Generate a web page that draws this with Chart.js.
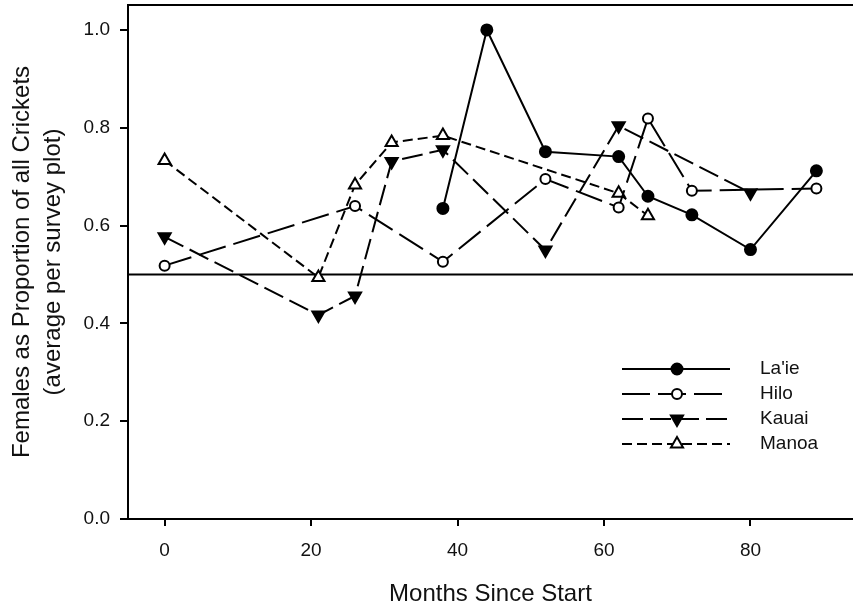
<!DOCTYPE html>
<html><head><meta charset="utf-8">
<script src="https://cdn.jsdelivr.net/npm/chart.js@4"></script>
<style>html,body{margin:0;padding:0;background:#fff;overflow:hidden}#wrap{width:853px;height:612px}</style>
</head><body><div id="wrap"><canvas id="c" width="853" height="612"></canvas></div>
<script>
const seriesNames = ["La'ie", "Hilo", "Kauai", "Manoa"];
const laieMonths = [38, 44, 52, 62, 66, 72, 80, 89];
const laieValues = [0.635, 1.0, 0.751, 0.741, 0.660, 0.622, 0.551, 0.712];
const hiloMonths = [0, 26, 38, 52, 62, 66, 72, 89];
const hiloValues = [0.518, 0.640, 0.526, 0.695, 0.637, 0.819, 0.671, 0.676];
const kauaiMonths = [0, 21, 26, 31, 38, 52, 62, 80];
const kauaiValues = [0.577, 0.417, 0.456, 0.731, 0.755, 0.550, 0.804, 0.667];
const manoaMonths = [0, 21, 26, 31, 38, 62, 66];
const manoaValues = [0.733, 0.494, 0.683, 0.770, 0.784, 0.666, 0.620];
const xTickValues = [0, 20, 40, 60, 80];
const yTickValues = [0.0, 0.2, 0.4, 0.6, 0.8, 1.0];
const referenceLevel = 0.5;
const xTitle = 'Months Since Start';
const yTitle = ['Females as Proportion of all Crickets', '(average per survey plot)'];

const FONT = "'Liberation Sans', Arial, sans-serif";
const toPts = (xs, ys) => xs.map((x, i) => ({x: x, y: ys[i]}));

const styles = [
  {dash: [], pointStyle: 'circle', rotation: 0, fill: '#000', radius: 5.5},
  {dash: [28, 8], pointStyle: 'circle', rotation: 0, fill: '#fff', radius: 5},
  {dash: [21, 7], pointStyle: 'triangle', rotation: 180, fill: '#000', radius: 7},
  {dash: [10, 5], pointStyle: 'triangle', rotation: 0, fill: '#fff', radius: 7}
];
const seriesData = [
  toPts(laieMonths, laieValues), toPts(hiloMonths, hiloValues),
  toPts(kauaiMonths, kauaiValues), toPts(manoaMonths, manoaValues)
];

const datasets = seriesNames.map((name, i) => ({
  label: name,
  data: seriesData[i],
  showLine: true,
  borderColor: '#000',
  borderWidth: 2,
  borderDash: styles[i].dash,
  pointStyle: styles[i].pointStyle,
  rotation: styles[i].rotation,
  pointRadius: styles[i].radius,
  pointBackgroundColor: styles[i].fill,
  pointBorderColor: '#000',
  pointBorderWidth: 2,
  fill: false,
  tension: 0
}));

const framePlugin = {
  id: 'frame',
  beforeDatasetsDraw(chart) {
    const {ctx, chartArea, scales} = chart;
    ctx.save();
    ctx.strokeStyle = '#000';
    ctx.lineWidth = 2;
    ctx.setLineDash([]);
    const y = scales.y.getPixelForValue(referenceLevel);
    ctx.beginPath();
    ctx.moveTo(chartArea.left, y); ctx.lineTo(chartArea.right, y);
    ctx.moveTo(chartArea.left - 1, chartArea.top); ctx.lineTo(chartArea.right, chartArea.top);
    ctx.stroke();
    ctx.restore();
  },
  afterDraw(chart) {
    const {ctx} = chart;
    const x0 = 622, x1 = 730, xm = 677, xt = 760, top = 369, gap = 25;
    ctx.save();
    chart.data.datasets.forEach((ds, i) => {
      const y = top + i * gap;
      ctx.strokeStyle = '#000';
      ctx.lineWidth = 2;
      ctx.setLineDash(ds.borderDash || []);
      ctx.beginPath(); ctx.moveTo(x0, y); ctx.lineTo(x1, y); ctx.stroke();
      ctx.setLineDash([]);
      ctx.fillStyle = ds.pointBackgroundColor;
      ctx.strokeStyle = '#000';
      ctx.lineWidth = 2;
      Chart.helpers.drawPoint(ctx, {pointStyle: ds.pointStyle, rotation: ds.rotation, radius: ds.pointRadius, borderWidth: 2}, xm, y);
      ctx.fillStyle = '#111';
      ctx.font = '19px ' + FONT;
      ctx.textAlign = 'left';
      ctx.textBaseline = 'middle';
      ctx.fillText(ds.label, xt, y);
    });
    ctx.restore();
  }
};

new Chart(document.getElementById('c'), {
  type: 'scatter',
  data: {datasets},
  plugins: [framePlugin],
  options: {
    responsive: false,
    animation: false,
    devicePixelRatio: 1,
    layout: {autoPadding: false, padding: {top: 5, left: 0, right: 0, bottom: 0}},
    plugins: {legend: {display: false}, tooltip: {enabled: false}},
    scales: {
      x: {
        type: 'linear', min: -5, max: 94,
        afterBuildTicks: s => { s.ticks = xTickValues.map(v => ({value: v})); },
        afterFit: s => { s.height = 93; s.paddingLeft = 0; s.paddingRight = 0; },
        border: {display: true, color: '#000', width: 2},
        grid: {drawOnChartArea: false, drawTicks: true, tickLength: 7, color: '#000', lineWidth: 2},
        ticks: {color: '#111', font: {family: FONT, size: 19}, padding: 13, maxRotation: 0, callback: v => String(v)},
        title: {display: true, text: xTitle, color: '#111', font: {family: FONT, size: 24}, padding: {top: 0, bottom: 3}}
      },
      y: {
        type: 'linear', min: 0, max: 1.051,
        afterBuildTicks: s => { s.ticks = yTickValues.map(v => ({value: v})); },
        afterFit: s => { s.width = 128; s.paddingTop = 0; s.paddingBottom = 0; },
        border: {display: true, color: '#000', width: 2},
        grid: {drawOnChartArea: false, drawTicks: true, tickLength: 8, color: '#000', lineWidth: 2},
        ticks: {color: '#111', font: {family: FONT, size: 19}, padding: 10, callback: v => Number(v).toFixed(1)},
        title: {display: true, text: yTitle, color: '#111', font: {family: FONT, size: 24, lineHeight: '31px'}, padding: {top: 7, bottom: 0}}
      }
    }
  }
});
</script></body></html>
